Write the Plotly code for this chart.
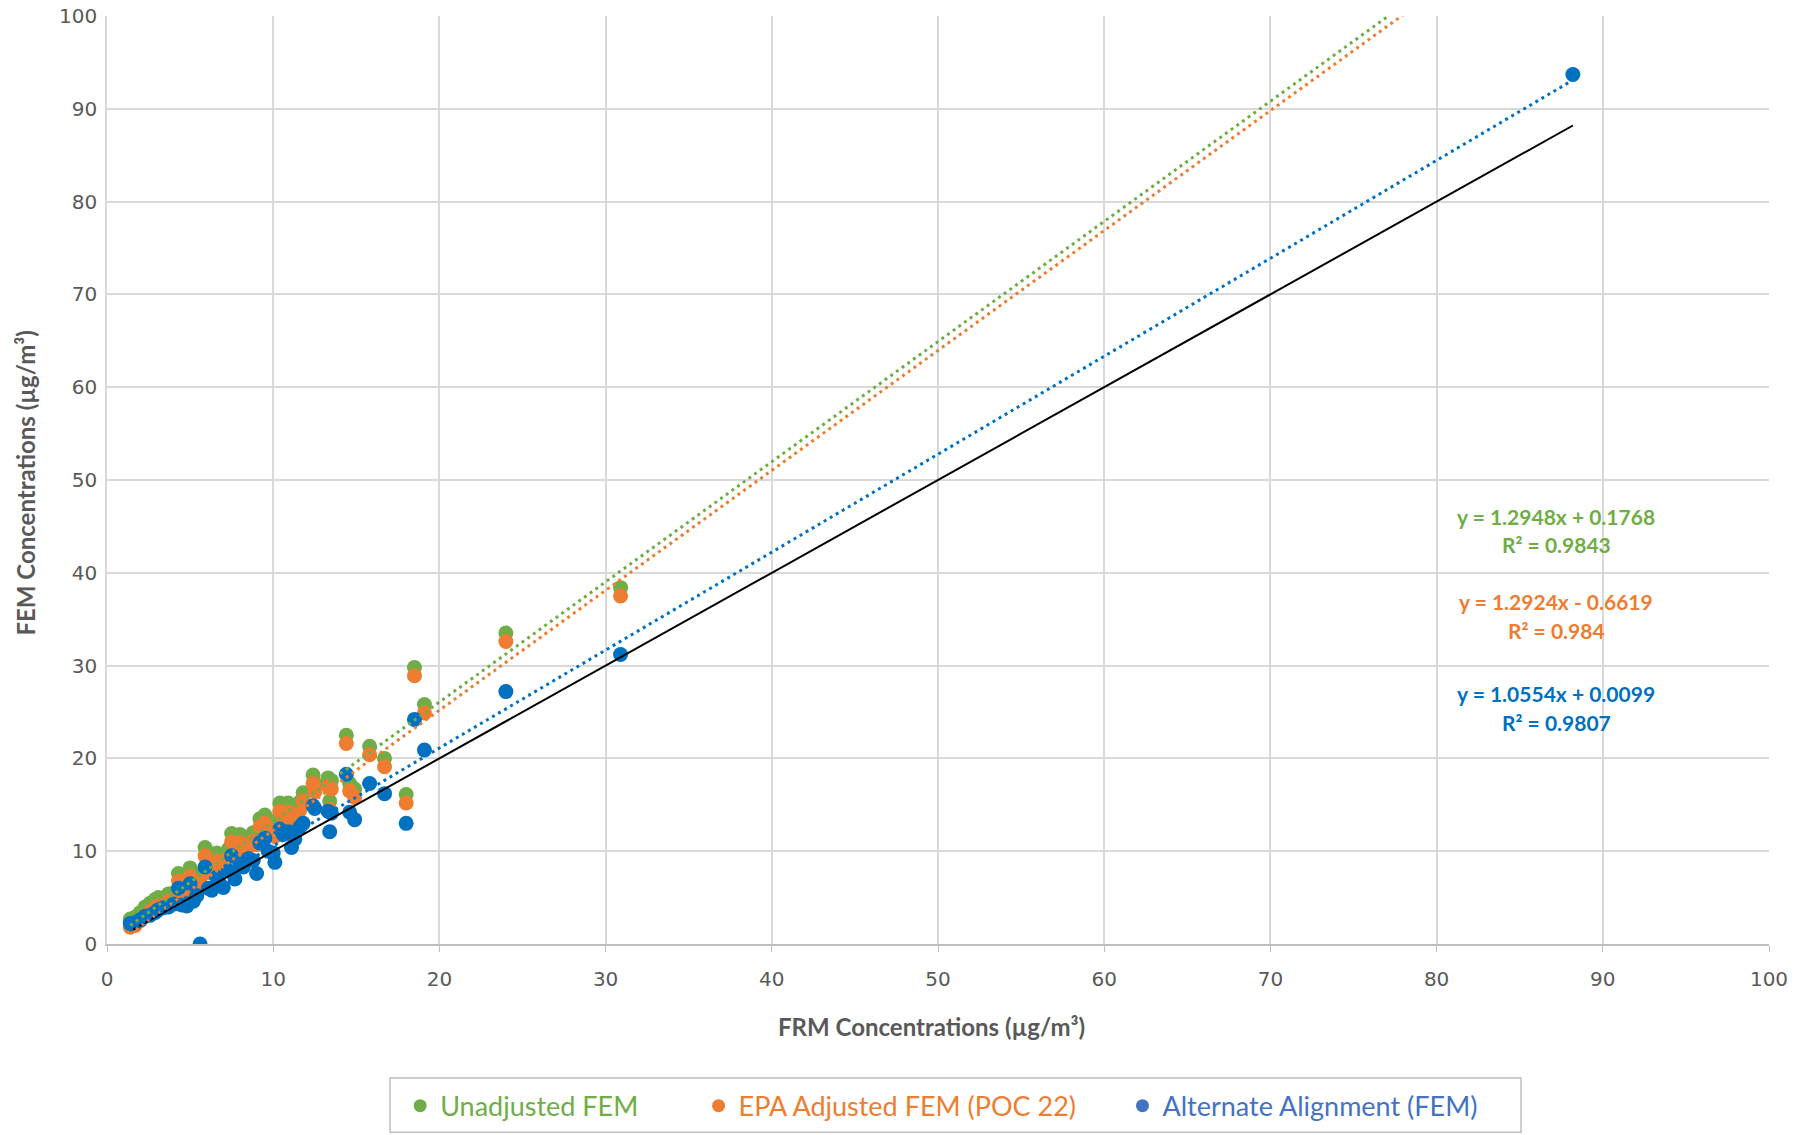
import plotly.graph_objects as go

# ---- data ----
frm = [1.4, 1.7, 2.0, 2.3, 2.6, 2.9, 3.1, 3.4, 3.7, 4.0, 4.3, 4.5, 4.8, 5.0, 5.2, 5.4, 5.6,
       5.9, 6.1, 6.3, 6.6, 6.8, 7.0, 7.3, 7.5, 7.7, 8.0, 8.2, 8.5, 8.8, 9.0, 9.2, 9.5, 9.7,
       10.0, 10.1, 10.4, 10.6, 10.9, 11.1, 11.3, 11.6, 11.8, 12.4, 12.5, 13.3, 13.4, 13.5,
       14.4, 14.6, 14.9, 15.8, 16.7, 18.0, 18.5, 19.1, 24.0, 30.9, 88.2]
unadjusted = [2.7, 2.9, 3.4, 4.0, 4.4, 4.8, 5.0, 4.9, 5.4, 5.5, 7.6, 6.2, 6.6, 8.2, 7.0, 7.4, 7.5,
              10.4, 8.6, 9.1, 9.8, 9.0, 9.4, 10.2, 11.9, 10.6, 11.8, 10.9, 11.3, 12.0, 11.6, 13.5, 13.9, 12.8,
              13.2, 12.5, 15.2, 14.6, 15.2, 14.1, 13.9, 15.3, 16.3, 18.2, 17.3, 17.9, 15.4, 17.6,
              22.5, 17.3, 16.7, 21.3, 20.0, 16.1, 29.8, 25.8, 33.5, 38.4, 114.4]
epa_adjusted = [1.8, 2.0, 2.5, 3.1, 3.5, 3.9, 4.1, 4.0, 4.6, 4.7, 6.8, 5.3, 5.7, 7.3, 6.1, 6.5, 6.6,
                9.5, 7.7, 8.2, 8.9, 8.1, 8.5, 9.3, 11.0, 9.7, 10.9, 10.0, 10.4, 11.1, 10.7, 12.6, 13.0, 11.9,
                12.3, 11.6, 14.3, 13.7, 14.2, 13.2, 13.0, 14.4, 15.4, 17.3, 16.4, 17.0, 14.5, 16.7,
                21.6, 16.5, 15.8, 20.4, 19.1, 15.2, 28.9, 24.9, 32.6, 37.5, 113.3]
alternate = [2.2, 2.3, 2.6, 3.0, 3.1, 3.4, 3.7, 3.9, 4.0, 4.3, 6.0, 4.2, 4.1, 6.5, 4.6, 5.2, 0.0,
             8.3, 6.0, 5.8, 7.2, 6.4, 6.1, 7.9, 9.5, 7.0, 8.6, 8.3, 9.2, 9.0, 7.6, 10.9, 11.4, 10.0,
             9.8, 8.8, 12.4, 11.8, 12.1, 10.4, 11.3, 12.6, 13.0, 14.9, 14.6, 14.3, 12.1, 14.1,
             18.3, 14.2, 13.4, 17.3, 16.2, 13.0, 24.2, 20.9, 27.2, 31.2, 93.7]

series_names = ["Unadjusted FEM", "EPA Adjusted FEM (POC 22)", "Alternate Alignment (FEM)"]
slopes = [1.2948, 1.2924, 1.0554]
intercepts = [0.1768, -0.6619, 0.0099]
r2_values = ["0.9843", "0.984", "0.9807"]
eq_texts = ["y = 1.2948x + 0.1768", "y = 1.2924x - 0.6619", "y = 1.0554x + 0.0099"]

ticks = [0, 10, 20, 30, 40, 50, 60, 70, 80, 90, 100]
x_title = "FRM Concentrations (µg/m³)"
y_title = "FEM Concentrations (µg/m³)"

# ---- styling ----
marker_colors = ["#70AD47", "#ED7D31", "#0070C0"]
legend_colors = ["#70AD47", "#ED7D31", "#4472C4"]
text_font = "Lato"

fig = go.Figure()

ys = [unadjusted, epa_adjusted, alternate]
for name, y, c in zip(series_names, ys, marker_colors):
    fig.add_trace(go.Scatter(x=frm, y=y, mode="markers", name=name, showlegend=False,
                             marker=dict(color=c, size=15, line=dict(width=0))))

# 1:1 reference line
xmin, xmax = min(frm), max(frm)
fig.add_trace(go.Scatter(x=[xmin, xmax], y=[xmin, xmax], mode="lines", showlegend=False,
                         line=dict(color="black", width=2), hoverinfo="skip"))

# linear trendlines (from the printed equations)
for m, b, c in zip(slopes, intercepts, marker_colors):
    fig.add_trace(go.Scatter(x=[xmin, xmax], y=[m * xmin + b, m * xmax + b], mode="lines",
                             showlegend=False, hoverinfo="skip",
                             line=dict(color=c, width=3, dash="3px,4px")))

# legend-only entries (text coloured like the series)
pads = ["\u00a0" * 8, "\u00a0" * 6, ""]
for name, c, p in zip(series_names, legend_colors, pads):
    label = f"<span style='color:{c}'>{name}</span>" + p
    fig.add_trace(go.Scatter(x=[None], y=[None], mode="markers", name=label,
                             marker=dict(color=c, size=13), showlegend=True))

# equation annotations
eq_y = [46.1, 36.9, 27.0]
r2_y = [43.0, 33.8, 23.9]
for t, r, ye, yr, c in zip(eq_texts, r2_values, eq_y, r2_y, marker_colors):
    fig.add_annotation(x=87.2, y=ye, text=f"<b>{t}</b>", showarrow=False, xanchor="center",
                       yanchor="middle", font=dict(family=text_font, size=21, color=c))
    fig.add_annotation(x=87.2, y=yr, text=f"<b>R² = {r}</b>", showarrow=False, xanchor="center",
                       yanchor="middle", font=dict(family=text_font, size=21, color=c))

# axis titles
fig.add_annotation(xref="paper", yref="paper", x=0.496, y=-0.0884, text=f"<b>{x_title}</b>",
                   showarrow=False, xanchor="center", yanchor="middle",
                   font=dict(family=text_font, size=24, color="#595959"))
fig.add_annotation(xref="paper", yref="paper", x=-0.0491, y=0.4976, text=f"<b>{y_title}</b>",
                   showarrow=False, xanchor="center", yanchor="middle", textangle=-90,
                   font=dict(family=text_font, size=24, color="#595959"))

# legend frame
fig.add_shape(type="rect", xref="paper", yref="paper", x0=0.1703, x1=0.8508,
              y0=-0.2029, y1=-0.1444, line=dict(color="#BFBFBF", width=1.5),
              fillcolor="rgba(0,0,0,0)")

axis_common = dict(range=[0, 100], tickvals=ticks, showgrid=True, gridcolor="#D9D9D9",
                   gridwidth=1.5, zeroline=False, automargin=False,
                   tickfont=dict(family="DejaVu Sans", size=20, color="#595959"))

fig.update_layout(
    width=1809, height=1147,
    margin=dict(l=107, r=40, t=16, b=203),
    plot_bgcolor="white", paper_bgcolor="white",
    xaxis=dict(**axis_common, showline=True, linecolor="#BFBFBF", linewidth=2,
               ticks="outside", ticklen=6, tickcolor="#BFBFBF", tickwidth=1,
               ticklabelstandoff=10),
    yaxis=dict(**axis_common, showline=True, linecolor="#D9D9D9", linewidth=1.5,
               ticks="", ticklabelstandoff=4),
    legend=dict(orientation="h", x=0.5022, xanchor="center", y=-0.1747, yanchor="middle",
                borderwidth=0, bgcolor="rgba(0,0,0,0)",
                font=dict(family=text_font, size=27), itemsizing="trace"),
    hovermode="closest",
)

fig.write_html("out.html", config={"displayModeBar": False},
               post_script="document.body.style.margin='0';")
